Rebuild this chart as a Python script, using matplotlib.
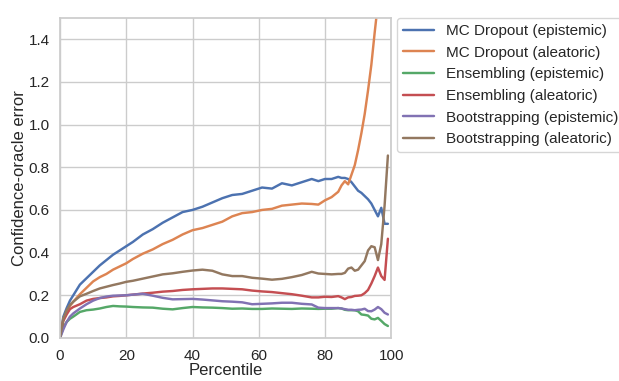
import matplotlib
matplotlib.use("Agg")
import matplotlib.pyplot as plt
import seaborn as sns

# Percentile positions at which each curve is sampled
percentile = [0, 1, 2, 3, 4, 6, 8, 10, 12, 14, 16, 18, 20, 22, 25, 28, 31, 34, 37, 40,
              43, 46, 49, 52, 55, 58, 61, 64, 67, 70, 73, 76, 78, 80, 82, 84, 85, 86, 87,
              88, 89, 90, 91, 92, 93, 94, 95, 96, 97, 98, 99]

mc_dropout_epistemic = [0.0, 0.10, 0.14, 0.175, 0.20, 0.25, 0.28, 0.31, 0.34, 0.365, 0.39,
                        0.41, 0.43, 0.45, 0.485, 0.51, 0.54, 0.565, 0.59, 0.60, 0.615, 0.635,
                        0.655, 0.67, 0.675, 0.69, 0.705, 0.70, 0.725, 0.715, 0.73, 0.745,
                        0.735, 0.745, 0.745, 0.755, 0.75, 0.75, 0.745, 0.73, 0.71, 0.69,
                        0.68, 0.665, 0.65, 0.63, 0.60, 0.57, 0.61, 0.535, 0.535]

mc_dropout_aleatoric = [0.0, 0.09, 0.12, 0.15, 0.17, 0.205, 0.235, 0.265, 0.285, 0.30, 0.32,
                        0.335, 0.35, 0.37, 0.395, 0.415, 0.44, 0.46, 0.485, 0.505, 0.515,
                        0.53, 0.545, 0.57, 0.585, 0.59, 0.60, 0.605, 0.62, 0.625, 0.63,
                        0.628, 0.625, 0.645, 0.66, 0.685, 0.715, 0.735, 0.72, 0.765, 0.81,
                        0.88, 0.96, 1.05, 1.16, 1.28, 1.43, 1.57, 1.75, 2.0, 2.3]

ensembling_epistemic = [0.0, 0.05, 0.075, 0.09, 0.10, 0.122, 0.13, 0.133, 0.138, 0.145, 0.15,
                        0.148, 0.147, 0.145, 0.143, 0.142, 0.137, 0.134, 0.14, 0.145, 0.143,
                        0.142, 0.14, 0.137, 0.138, 0.136, 0.136, 0.138, 0.137, 0.136, 0.138,
                        0.137, 0.136, 0.137, 0.137, 0.14, 0.138, 0.132, 0.13, 0.13, 0.13,
                        0.125, 0.11, 0.108, 0.105, 0.09, 0.087, 0.094, 0.08, 0.065, 0.056]

ensembling_aleatoric = [0.0, 0.08, 0.11, 0.135, 0.145, 0.158, 0.175, 0.183, 0.187, 0.19, 0.195,
                        0.197, 0.20, 0.203, 0.208, 0.212, 0.217, 0.22, 0.225, 0.228, 0.23,
                        0.232, 0.232, 0.23, 0.228, 0.222, 0.218, 0.215, 0.21, 0.205, 0.198,
                        0.19, 0.19, 0.193, 0.192, 0.196, 0.19, 0.182, 0.19, 0.192, 0.197,
                        0.198, 0.20, 0.21, 0.225, 0.255, 0.29, 0.33, 0.29, 0.272, 0.465]

bootstrapping_epistemic = [0.0, 0.04, 0.075, 0.10, 0.115, 0.138, 0.158, 0.175, 0.187, 0.194,
                           0.198, 0.199, 0.20, 0.203, 0.207, 0.198, 0.188, 0.181, 0.182, 0.183,
                           0.18, 0.176, 0.172, 0.17, 0.167, 0.158, 0.16, 0.162, 0.165, 0.165,
                           0.16, 0.157, 0.142, 0.14, 0.14, 0.14, 0.138, 0.135, 0.132, 0.132,
                           0.13, 0.132, 0.133, 0.137, 0.126, 0.125, 0.133, 0.145, 0.135,
                           0.118, 0.11]

bootstrapping_aleatoric = [0.0, 0.09, 0.13, 0.155, 0.17, 0.195, 0.207, 0.22, 0.232, 0.24,
                           0.248, 0.255, 0.263, 0.268, 0.278, 0.288, 0.298, 0.303, 0.31, 0.316,
                           0.32, 0.315, 0.298, 0.29, 0.29, 0.282, 0.278, 0.273, 0.277, 0.285,
                           0.295, 0.31, 0.302, 0.30, 0.298, 0.30, 0.30, 0.305, 0.325, 0.33,
                           0.315, 0.32, 0.34, 0.36, 0.41, 0.43, 0.425, 0.365, 0.44, 0.62, 0.855]

series = [
    ("MC Dropout (epistemic)", mc_dropout_epistemic),
    ("MC Dropout (aleatoric)", mc_dropout_aleatoric),
    ("Ensembling (epistemic)", ensembling_epistemic),
    ("Ensembling (aleatoric)", ensembling_aleatoric),
    ("Bootstrapping (epistemic)", bootstrapping_epistemic),
    ("Bootstrapping (aleatoric)", bootstrapping_aleatoric),
]

sns.set_theme(style="whitegrid")
plt.rcParams["font.family"] = ["Liberation Sans", "DejaVu Sans"]

fig = plt.figure(figsize=(6.19, 3.81), dpi=100)
ax = fig.add_axes([0.097, 0.113, 0.535, 0.840])

palette = sns.color_palette("deep")
for (label, values), color in zip(series, palette):
    ax.plot(percentile, values, label=label, color=color, linewidth=1.75)

ax.set_xlim(0, 100)
ax.set_ylim(0, 1.5)
ax.set_xticks([0, 20, 40, 60, 80, 100])
ax.set_yticks([0.0, 0.2, 0.4, 0.6, 0.8, 1.0, 1.2, 1.4])
ax.set_xlabel("Percentile", fontsize=12, labelpad=0)
ax.set_ylabel("Confidence-oracle error", fontsize=12, labelpad=1)
ax.tick_params(axis="y", labelsize=11, pad=1.5)
ax.tick_params(axis="x", labelsize=11, pad=2)

ax.legend(loc="upper left", bbox_to_anchor=(1.018, 1.0), fontsize=11,
          frameon=True, borderaxespad=0.0)

fig.savefig("out.png", dpi=100)
